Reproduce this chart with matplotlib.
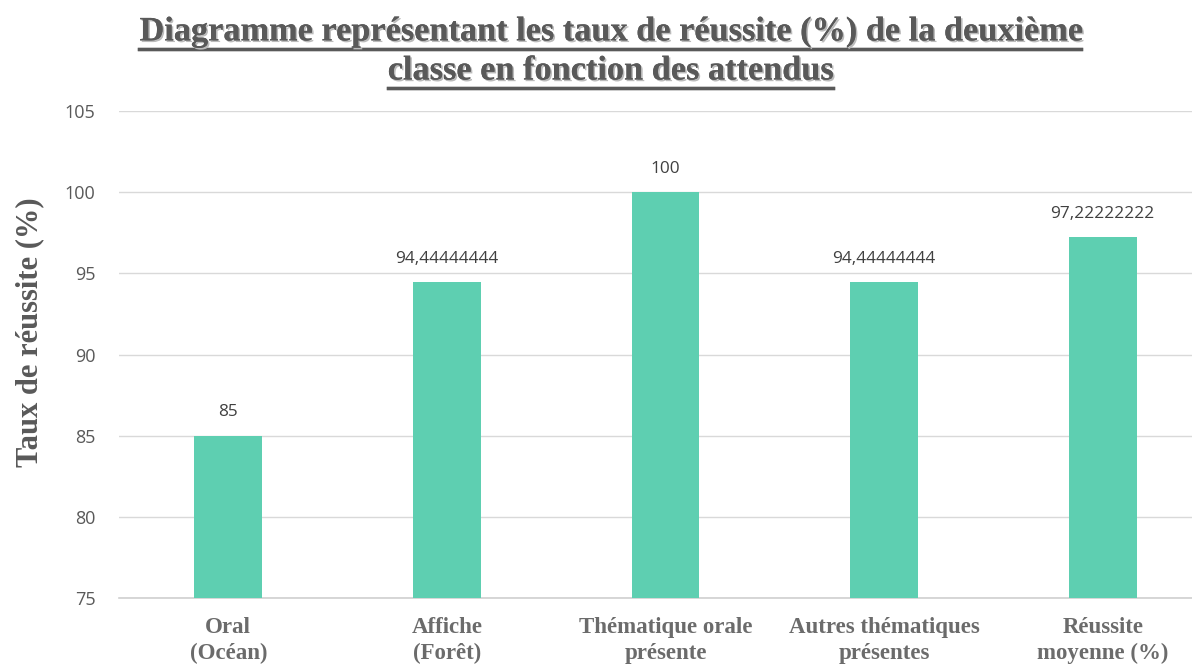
import matplotlib.pyplot as plt
import matplotlib.patheffects as pe
from matplotlib.lines import Line2D

categories = ["Oral\n(Océan)", "Affiche\n(Forêt)", "Thématique orale\nprésente",
              "Autres thématiques\nprésentes", "Réussite\nmoyenne (%)"]
values = [85, 94.44444444, 100, 94.44444444, 97.22222222]
value_labels = ["85", "94,44444444", "100", "94,44444444", "97,22222222"]
yticks = [75, 80, 85, 90, 95, 100, 105]
title_lines = ["Diagramme représentant les taux de réussite (%) de la deuxième",
               "classe en fonction des attendus"]

W, H = 1192, 666
fig = plt.figure(figsize=(W / 100, H / 100), dpi=100)
# axes spans past right edge like the cropped original
ax = fig.add_axes([119 / W, 1 - 598 / H, (1212 - 119) / W, (598 - 111) / H])

x = range(len(values))
ax.bar(x, values, width=0.31, color="#5ECFB1", zorder=3)
ax.set_xlim(-0.5, len(values) - 0.5)
ax.set_ylim(75, 105)
ax.set_yticks(yticks)
ax.set_yticklabels([str(t) for t in yticks], fontname="Open Sans", fontsize=13, color="#595959")
ax.tick_params(axis="y", length=0, pad=17)
ax.tick_params(axis="x", length=0, pad=14)
ax.grid(axis="y", color="#d9d9d9", linewidth=1, zorder=0)
for s in ["top", "right", "left"]:
    ax.spines[s].set_visible(False)
ax.spines["bottom"].set_color("#d0d0d0")
ax.spines["bottom"].set_linewidth(1.2)
ax.set_xticks(list(x))
ax.set_xticklabels(categories, fontname="Liberation Serif", fontweight="bold",
                   fontsize=16.5, color="#6b6b6b", linespacing=1.3)

for i, (v, lab) in enumerate(zip(values, value_labels)):
    ax.annotate(lab, (i, v), xytext=(0, 11), textcoords="offset points",
                ha="center", va="bottom", fontname="Open Sans", fontsize=12.4,
                color="#404040")

fig.text(30 / W, 1 - 332 / H, "Taux de réussite (%)", rotation=90, ha="center", va="center",
         fontname="Liberation Serif", fontweight="bold", fontsize=22, color="#595959")

shadow = [pe.withSimplePatchShadow(offset=(1.2, -1.2), shadow_rgbFace="#bbbbbb", alpha=1), pe.Normal()]
title_y = [1 - 32 / H, 1 - 71 / H]
texts = []
for line, ty in zip(title_lines, title_y):
    t = fig.text(0.512, ty, line, ha="center", va="center", fontname="Liberation Serif",
                 fontweight="bold", fontsize=24.7, color="#595959", path_effects=shadow)
    texts.append(t)

fig.canvas.draw()
r = fig.canvas.get_renderer()
for t in texts:
    bb = t.get_window_extent(r)
    yl = (bb.y0 - 1) / H
    fig.add_artist(Line2D([bb.x0 / W, bb.x1 / W], [yl, yl], color="#595959", linewidth=2.4,
                          path_effects=shadow))

fig.savefig("out.png", dpi=100)
